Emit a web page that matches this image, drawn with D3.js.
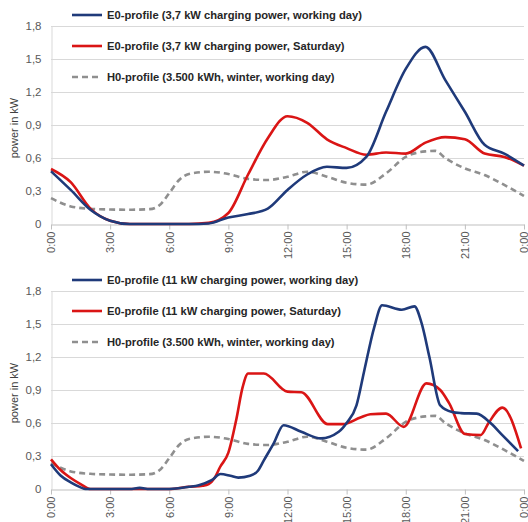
<!DOCTYPE html>
<html><head><meta charset="utf-8">
<script src="https://cdn.jsdelivr.net/npm/d3@7/dist/d3.min.js"></script>
<style>
html,body{margin:0;padding:0;background:#fff;}
svg{display:block;}
</style></head>
<body>
<svg id="chart" width="528" height="522"></svg>
<script>
// ---------- data ----------
const yTicks = [0, 0.3, 0.6, 0.9, 1.2, 1.5, 1.8];
const yTickLabels = ["0", "0,3", "0,6", "0,9", "1,2", "1,5", "1,8"];
const xTicks = [0, 3, 6, 9, 12, 15, 18, 21, 24];
const xTickLabels = ["0:00", "3:00", "6:00", "9:00", "12:00", "15:00", "18:00", "21:00", "0:00"];
const yAxisTitle = "power in kW";

// H0 profile (same in both panels)
const h0Hours = [0,1,2,3,4,5,5.5,6,6.5,7,8,9,10,11,12,13,14,15,16,17,18,19,19.5,20,21,22,23,24];
const h0Values = [0.235,0.16,0.138,0.132,0.13,0.135,0.17,0.28,0.4,0.455,0.475,0.455,0.41,0.40,0.43,0.475,0.43,0.375,0.358,0.46,0.61,0.66,0.665,0.6,0.505,0.445,0.355,0.255];

// Top panel: 3,7 kW
const e37WorkHours = [0,1,2,3,4,5,6,7,8,9,10,11,12,13,14,15,16,17,18,19,20,21,22,23,24];
const e37WorkValues = [0.48,0.31,0.13,0.03,0,0,0,0,0.005,0.06,0.09,0.14,0.31,0.45,0.52,0.51,0.61,1.02,1.41,1.61,1.31,1.02,0.72,0.64,0.53];
const e37SatHours = [0,1,2,3,4,5,6,7,8,9,10,11,12,13,14,15,16,17,18,19,20,21,22,23,24];
const e37SatValues = [0.5,0.38,0.14,0.03,0,0,0,0,0.01,0.1,0.45,0.78,0.98,0.92,0.77,0.69,0.63,0.65,0.64,0.74,0.79,0.77,0.64,0.61,0.53];

// Bottom panel: 11 kW
const e11WorkHours = [0,0.5,1,1.5,1.75,4,4.5,5,6,7,7.5,8.15,8.6,9.1,9.5,10.1,10.5,10.8,11.3,11.8,12.7,13.7,14.6,15,15.5,15.9,16.4,16.8,17.8,18.44,18.8,19.2,19.75,20.35,20.8,21.6,22.3,22.9,23.7];
const e11WorkValues = [0.225,0.12,0.06,0.015,0,0,0.01,0,0,0.02,0.035,0.08,0.136,0.12,0.103,0.12,0.166,0.26,0.415,0.58,0.52,0.46,0.52,0.6,0.76,1.08,1.47,1.67,1.63,1.66,1.51,1.2,0.76,0.70,0.69,0.685,0.6,0.49,0.345];
const e11SatHours = [0,0.5,1,1.5,2,6,7,7.7,8,8.3,8.58,9,9.4,9.73,10,10.8,12,12.7,14.05,14.8,15.7,16.2,17,17.9,19.05,19.75,20.2,21,21.8,22.2,22.9,23.85];
const e11SatValues = [0.27,0.17,0.1,0.045,0,0,0.02,0.03,0.045,0.1,0.2,0.33,0.63,0.93,1.05,1.05,0.885,0.88,0.59,0.59,0.65,0.68,0.685,0.565,0.96,0.9,0.78,0.5,0.49,0.6,0.74,0.37];

const panels = [
  {
    offset: 0,
    series: [
      {name: "E0-profile (3,7 kW charging power, working day)", hours: e37WorkHours, values: e37WorkValues, color: "#1F3A7A", dash: null},
      {name: "E0-profile (3,7 kW charging power, Saturday)", hours: e37SatHours, values: e37SatValues, color: "#DA1515", dash: null},
      {name: "H0-profile (3.500 kWh, winter, working day)", hours: h0Hours, values: h0Values, color: "#8F8F8F", dash: "6,4"}
    ]
  },
  {
    offset: 265,
    series: [
      {name: "E0-profile (11 kW charging power, working day)", hours: e11WorkHours, values: e11WorkValues, color: "#1F3A7A", dash: null},
      {name: "E0-profile (11 kW charging power, Saturday)", hours: e11SatHours, values: e11SatValues, color: "#DA1515", dash: null},
      {name: "H0-profile (3.500 kWh, winter, working day)", hours: h0Hours, values: h0Values, color: "#8F8F8F", dash: "6,4"}
    ]
  }
];

// ---------- drawing ----------
const svg = d3.select("#chart");
const left = 51, right = 524;
const x = d3.scaleLinear().domain([0, 24]).range([left, right]);
const font = "'Liberation Sans', Arial, sans-serif";

panels.forEach(p => {
  const top = 26 + p.offset, bottom = 224 + p.offset;
  const y = d3.scaleLinear().domain([0, 1.8]).range([bottom, top]);
  const g = svg.append("g");

  // gridlines
  g.append("g").selectAll("line").data(yTicks.filter(v => v > 0)).join("line")
    .attr("x1", left).attr("x2", right)
    .attr("y1", d => Math.round(y(d)) + 0.5).attr("y2", d => Math.round(y(d)) + 0.5)
    .attr("stroke", "#D9D9D9").attr("stroke-width", 1);

  // y axis
  const yAxis = d3.axisLeft(y).tickValues(yTicks).tickSize(0).tickPadding(10)
    .tickFormat((d, i) => yTickLabels[i]);
  const ya = g.append("g").attr("transform", `translate(${left + 0.5},0)`).call(yAxis);
  ya.select(".domain").attr("stroke", "#D9D9D9");
  ya.selectAll("text").attr("font-family", font).attr("font-size", 11.5).attr("fill", "#595959");

  // x axis
  const xAxis = d3.axisBottom(x).tickValues(xTicks).tickSize(5).tickSizeOuter(0)
    .tickFormat((d, i) => xTickLabels[i]);
  const xa = g.append("g").attr("transform", `translate(0,${Math.round(bottom) + 0.5})`).call(xAxis);
  xa.select(".domain").attr("stroke", "#BFBFBF");
  xa.selectAll(".tick line").attr("stroke", "#BFBFBF");
  xa.selectAll("text")
    .attr("font-family", font).attr("font-size", 11).attr("fill", "#595959")
    .attr("text-anchor", "end")
    .attr("transform", "rotate(-90)")
    .attr("x", -7).attr("y", 0).attr("dy", "0.35em");

  // y title
  g.append("text")
    .attr("transform", `translate(18,${(top + bottom) / 2 + 3}) rotate(-90)`)
    .attr("text-anchor", "middle")
    .attr("font-family", font).attr("font-size", 11).attr("fill", "#404040")
    .text(yAxisTitle);

  // lines
  const line = d3.line().x(d => x(d[0])).y(d => y(d[1])).curve(d3.curveMonotoneX);
  [2, 1, 0].forEach(i => {
    const s = p.series[i];
    const pts = s.hours.map((h, k) => [h, s.values[k]]);
    g.append("path").datum(pts)
      .attr("d", line)
      .attr("fill", "none")
      .attr("stroke", s.color)
      .attr("stroke-width", 2.6)
      .attr("stroke-linejoin", "round")
      .attr("stroke-linecap", "butt")
      .attr("stroke-dasharray", s.dash);
  });

  // legend
  const legY = [15, 46, 77].map(v => v + p.offset);
  const lg = g.append("g");
  p.series.forEach((s, i) => {
    lg.append("line")
      .attr("x1", 72).attr("x2", 102)
      .attr("y1", legY[i]).attr("y2", legY[i])
      .attr("stroke", s.color).attr("stroke-width", 2.6)
      .attr("stroke-dasharray", s.dash);
    lg.append("text")
      .attr("class", "legtext")
      .attr("x", 107).attr("y", legY[i]).attr("dy", "0.36em")
      .attr("font-family", font).attr("font-size", 11.5).attr("font-weight", "bold")
      .attr("fill", "#262626")
      .text(s.name);
  });
});

// compress legend text to Calibri-like width
const legNodes = svg.selectAll(".legtext").nodes();
const w0 = legNodes[0].getComputedTextLength();
const ratio = 255 / w0;
legNodes.forEach(n => {
  const w = n.getComputedTextLength();
  n.setAttribute("textLength", (w * ratio).toFixed(1));
  n.setAttribute("lengthAdjust", "spacingAndGlyphs");
});
</script>
</body></html>
